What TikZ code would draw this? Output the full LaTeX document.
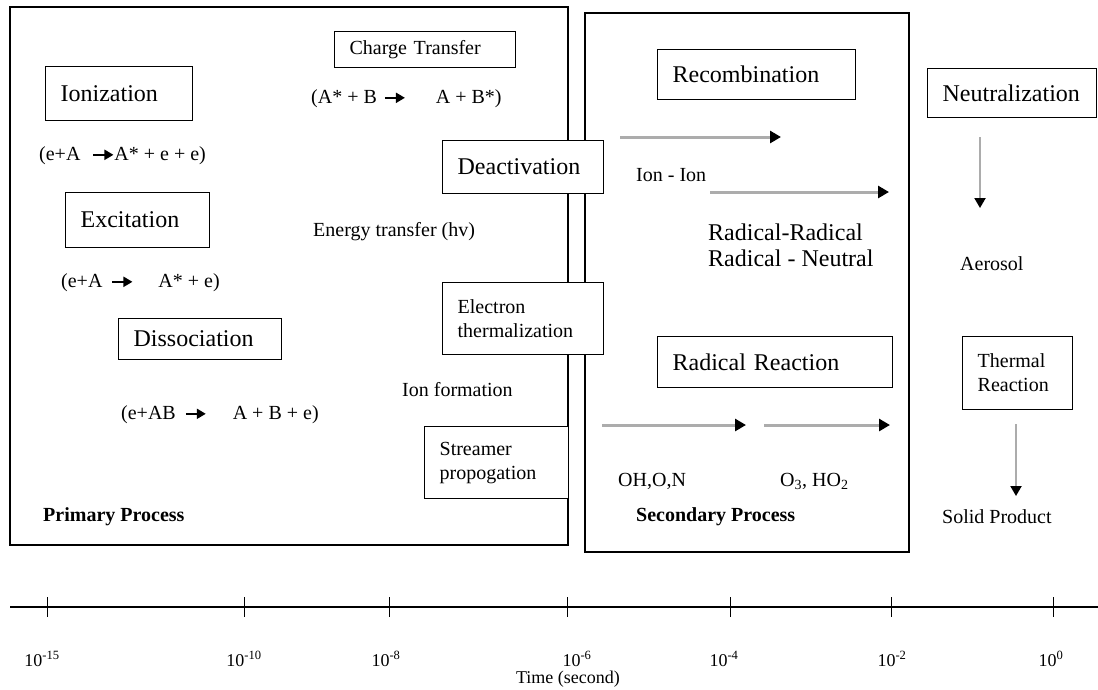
\documentclass[tikz,border=0pt]{standalone}
\usepackage{fontspec}
\setmainfont{Liberation Serif}
\usetikzlibrary{arrows.meta}

\newcommand{\rxarrow}{\tikz[baseline=-0.3em]\draw[line width=2pt,-{Triangle[length=9pt,width=10pt]}] (0pt,0pt) -- (20pt,0pt);}

\tikzset{
  frame/.style={draw, line width=1.3pt},
  bigtxt/.style={font=\fontsize{24}{27}\selectfont},
  smalltxt/.style={font=\fontsize{20}{24}\selectfont},
  procbox/.style={draw, line width=1.3pt, fill=white, anchor=north west, align=left, inner xsep=15pt, inner ysep=0pt},
  note/.style={anchor=west, inner sep=0pt, align=left, font=\fontsize{20}{24}\selectfont},
  flow/.style={draw=gray!65, line width=3pt, -{Triangle[color=black,length=11pt,width=12pt]}},
  drop/.style={draw=gray!65, line width=2pt, -{Triangle[color=black,length=10pt,width=11pt]}},
  axlbl/.style={inner sep=0pt, font=\fontsize{18}{20}\selectfont}
}

\begin{document}
\begin{tikzpicture}[x=1pt,y=-1pt]
%  \draw [step=50,color=gray] (0,0) grid (1098,689);
  \useasboundingbox (0,0) rectangle (1098,689);

  \draw[frame] (10,7) rectangle (568,545);
  \draw[frame] (585,13) rectangle (909,552);

  % primary process
  \node[procbox,smalltxt,text width=151pt,minimum height=36pt] (chg) at (334,31) {Charge Transfer};
  \node[procbox,bigtxt,text width=117pt,minimum height=54pt] (ioniz) at (45,66) {Ionization};
  \node[procbox,bigtxt,text width=114pt,minimum height=55pt] (excit) at (65,192) {Excitation};
  \node[procbox,bigtxt,text width=133pt,minimum height=41pt] (dissoc) at (118,318) {Dissociation};
  \node[procbox,bigtxt,text width=131pt,minimum height=53pt] (deact) at (442,140) {Deactivation};
  \node[procbox,smalltxt,text width=131pt,minimum height=72pt] (etherm) at (442,282) {Electron\\thermalization};
  \node[procbox,smalltxt,text width=114pt,minimum height=72pt] (stream) at (424,426) {Streamer\\propogation};

  \node[note] (rxchg) at (311,99) {(A* + B\hspace{7pt}\rxarrow\hspace{30pt}A + B*)};
  \node[note] (rxion) at (39,156) {(e+A\hspace{12pt}\rxarrow A* + e + e)};
  \node[note] (entr) at (313,232) {Energy transfer (hv)};
  \node[note] (rxexc) at (61,283) {(e+A\hspace{9pt}\rxarrow\hspace{25pt}A* + e)};
  \node[note] (ionf) at (402,390) {Ion formation};
  \node[note] (rxdis) at (121,415) {(e+AB\hspace{9pt}\rxarrow\hspace{26pt}A + B + e)};
  \node[note,font=\fontsize{20}{24}\selectfont\bfseries] (prim) at (43,517) {Primary Process};

  % secondary process
  \node[procbox,bigtxt,text width=168pt,minimum height=50pt] (recomb) at (657,49) {Recombination};
  \node[procbox,bigtxt,text width=205pt,minimum height=51pt] (radrx) at (657,336) {Radical Reaction};
  \node[procbox,bigtxt,text width=139pt,minimum height=49pt] (neutr) at (927,68) {Neutralization};
  \node[procbox,smalltxt,text width=80pt,minimum height=73pt] (thermrx) at (962,336) {Thermal\\Reaction};

  \node[note] (ionion) at (636,175) {Ion - Ion};
  \node[note,font=\fontsize{24}{26}\selectfont] (radrad) at (708,245) {Radical-Radical\\Radical - Neutral};
  \node[note] (aero) at (960,264) {Aerosol};
  \node[note] (ohon) at (618,481) {OH,O,N};
  \node[note] (ohtwo) at (780,481) {O\textsubscript{3}, HO\textsubscript{2}};
  \node[note,font=\fontsize{20}{24}\selectfont\bfseries] (secd) at (636,517) {Secondary Process};
  \node[note] (solid) at (942,517) {Solid Product};

  \path (620,137) coordinate (A1);
  \path (781,137) coordinate (B1);
  \path (710,192) coordinate (A2);
  \path (889,192) coordinate (B2);
  \path (602,425) coordinate (A3);
  \path (746,425) coordinate (B3);
  \path (764,425) coordinate (A4);
  \path (890,425) coordinate (B4);
  \path (980,137) coordinate (A5);
  \path (980,208) coordinate (B5);
  \path (1016,424) coordinate (A6);
  \path (1016,496) coordinate (B6);

  \draw[flow] (A1) -- (B1);
  \draw[flow] (A2) -- (B2);
  \draw[flow] (A3) -- (B3);
  \draw[flow] (A4) -- (B4);
  \draw[drop] (A5) -- (B5);
  \draw[drop] (A6) -- (B6);

  % time axis
  \path (10,607) coordinate (T0);
  \path (1098,607) coordinate (T1);
  \draw[line width=1.3pt] (T0) -- (T1);
  \foreach \tx/\lx/\ex [count=\i] in {47/42/-15, 244/244/-10, 389/386/-8, 567/577/-6, 730/724/-4, 891/892/-2, 1053/1051/0}{
    \draw[line width=1pt] (\tx,597) -- (\tx,617);
    \node[axlbl] (lab\i) at (\lx,659) {10\textsuperscript{\ex}};
  }
  \node[axlbl] (timelbl) at (568,679) {Time (second)};

\end{tikzpicture}
\end{document}
